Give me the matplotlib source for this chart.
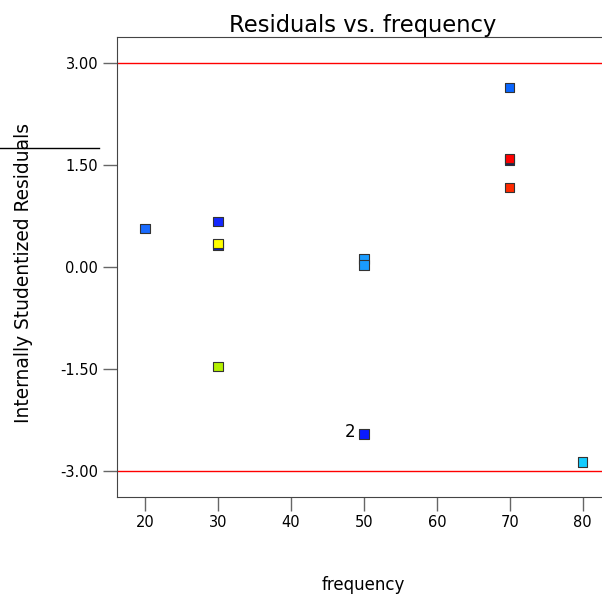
import matplotlib.pyplot as plt
from matplotlib.lines import Line2D

plt.rcParams['axes.unicode_minus'] = False

freq = [20, 30, 30, 30, 30, 50, 50, 50, 70, 70, 70, 70, 80]
resid = [0.56, 0.667, 0.32, 0.338, -1.47, 0.113, 0.025, -2.46, 2.632, 1.57, 1.588, 1.162, -2.87]
colors = ['#1a6bff', '#1428ff', '#1020c0', '#ffff00', '#b4f000', '#1a9cff', '#1a9cff',
          '#0a1aff', '#0a66ff', '#202060', '#ff0000', '#ff2a00', '#14ccff']
limits = [3.0, -3.0]
y_ticks = [-3.0, -1.5, 0.0, 1.5, 3.0]
x_ticks = [20, 30, 40, 50, 60, 70, 80]

fig = plt.figure(figsize=(6.02, 5.98), dpi=100)
ax = fig.add_axes([117 / 602, 1 - 496.7 / 598, 492 / 602, 459.7 / 598])

for y in limits:
    ax.axhline(y, color='red', lw=1)

ax.scatter(freq, resid, marker='s', s=45, c=colors, edgecolors='#333333', linewidths=0.8, zorder=3)
ax.text(48.9, -2.5, '2', ha='right', va='baseline', fontsize=12)

ax.set_xlim(16.16, 83.6)
ax.set_ylim(-3.382, 3.378)
ax.set_xticks(x_ticks)
ax.set_yticks(y_ticks)
ax.set_yticklabels([f'{v:.2f}' for v in y_ticks])
ax.tick_params(direction='out', length=10, width=1, pad=3.5, color='#666666', labelsize=10.5)
ax.spines['right'].set_visible(False)
for s in ['left', 'bottom', 'top']:
    ax.spines[s].set_color('#444444')

ax.set_title('Residuals vs. frequency', fontsize=16.3, pad=3)
ax.set_xlabel('frequency', fontsize=12)
ax.xaxis.set_label_coords(0.5, -0.172)
ax.set_ylabel('Internally Studentized Residuals', fontsize=13.4)
ax.yaxis.set_label_coords(-0.171, 0.487)

fig.add_artist(Line2D([0, 99 / 602], [1 - 147.7 / 598, 1 - 147.7 / 598], color='black', lw=1))

fig.savefig('out.png')
